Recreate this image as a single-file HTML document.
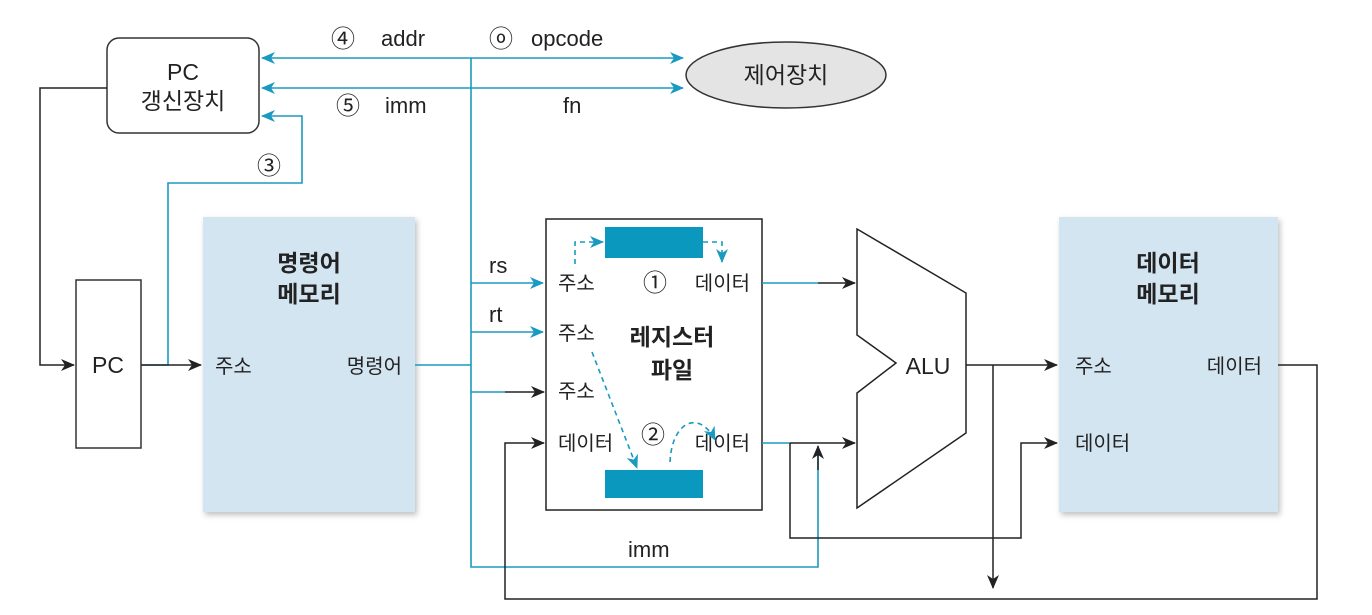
<!DOCTYPE html>
<html><head><meta charset="utf-8"><style>
html,body{margin:0;padding:0;background:#fff;}
svg{display:block;}
text{font-family:"Liberation Sans","Noto Sans CJK KR",sans-serif;fill:#222;}
</style></head><body>
<svg width="1372" height="615" viewBox="0 0 1372 615" xmlns="http://www.w3.org/2000/svg">
<defs>
<marker id="ab" markerWidth="14" markerHeight="12" refX="13" refY="6" orient="auto" markerUnits="userSpaceOnUse"><path d="M0,0 L14,6 L0,12 L4,6 Z" fill="#222"/></marker>
<marker id="ac" markerWidth="14" markerHeight="12" refX="13" refY="6" orient="auto" markerUnits="userSpaceOnUse"><path d="M0,0 L14,6 L0,12 L4,6 Z" fill="#1a9ac0"/></marker>
<marker id="acs" markerWidth="14" markerHeight="12" refX="1" refY="6" orient="auto" markerUnits="userSpaceOnUse"><path d="M14,0 L0,6 L14,12 L10,6 Z" fill="#1a9ac0"/></marker>
<filter id="sh" x="-5%" y="-5%" width="115%" height="115%"><feDropShadow dx="2" dy="3" stdDeviation="3" flood-color="#000" flood-opacity="0.25"/></filter>
</defs>

<rect x="107" y="38" width="152" height="95" rx="12" fill="#fff" stroke="#333" stroke-width="1.5"/>
<text x="183" y="80" font-size="23" text-anchor="middle">PC</text>
<text x="183" y="109" font-size="23" text-anchor="middle">갱신장치</text>

<ellipse cx="786" cy="75" rx="100" ry="33" fill="#e4e4e4" stroke="#333" stroke-width="1.5"/>
<text x="786" y="83" font-size="23" text-anchor="middle">제어장치</text>

<rect x="76" y="280" width="65" height="168" fill="#fff" stroke="#333" stroke-width="1.5"/>
<text x="108" y="373" font-size="23" text-anchor="middle">PC</text>

<rect x="203" y="217" width="212" height="295" fill="#d4e5f2" filter="url(#sh)"/>
<text x="309" y="271" font-size="23" font-weight="bold" text-anchor="middle">명령어</text>
<text x="309" y="302" font-size="23" font-weight="bold" text-anchor="middle">메모리</text>
<text x="215" y="373" font-size="20">주소</text>
<text x="402" y="373" font-size="20" text-anchor="end">명령어</text>

<rect x="1059" y="217" width="219" height="295" fill="#d4e5f2" filter="url(#sh)"/>
<text x="1168" y="271" font-size="23" font-weight="bold" text-anchor="middle">데이터</text>
<text x="1168" y="302" font-size="23" font-weight="bold" text-anchor="middle">메모리</text>
<text x="1075" y="373" font-size="20">주소</text>
<text x="1262" y="373" font-size="20" text-anchor="end">데이터</text>
<text x="1075" y="450" font-size="20">데이터</text>

<rect x="546" y="219" width="216" height="291" fill="#fff" stroke="#222" stroke-width="1.5"/>
<rect x="605" y="227" width="98" height="31" fill="#0b98bf"/>
<rect x="605" y="470" width="98" height="28" fill="#0b98bf"/>
<text x="558" y="290" font-size="20">주소</text>
<text x="655" y="291" font-size="24" text-anchor="middle">①</text>
<text x="750" y="290" font-size="20" text-anchor="end">데이터</text>
<text x="558" y="340" font-size="20">주소</text>
<text x="672" y="345" font-size="23" font-weight="bold" text-anchor="middle">레지스터</text>
<text x="672" y="378" font-size="23" font-weight="bold" text-anchor="middle">파일</text>
<text x="558" y="398" font-size="20">주소</text>
<text x="558" y="450" font-size="20">데이터</text>
<text x="653" y="443" font-size="24" text-anchor="middle">②</text>
<text x="750" y="450" font-size="20" text-anchor="end">데이터</text>

<g fill="none" stroke="#1a9ac0" stroke-width="1.6" stroke-dasharray="5,4">
<path d="M575,264 V242 H603" marker-end="url(#ac)"/>
<path d="M703,242 H722 V262" marker-end="url(#ac)"/>
<path d="M592,352 L637,468" marker-end="url(#ac)"/>
<path d="M670,462 C672,420 700,410 715,440" marker-end="url(#ac)"/>
</g>

<path d="M857,229 L966,293 L966,433 L857,508 L857,393 L896,363 L857,335 Z" fill="#fff" stroke="#222" stroke-width="1.5"/>
<text x="928" y="374" font-size="23" text-anchor="middle">ALU</text>

<g fill="none" stroke="#1a9ac0" stroke-width="1.6">
<path d="M471,58 V567 H818 V455"/>
<path d="M262,58 H683" marker-start="url(#acs)" marker-end="url(#ac)"/>
<path d="M262,88 H683" marker-start="url(#acs)" marker-end="url(#ac)"/>
<path d="M141,365 H168 V183 H302 V116 H262" marker-end="url(#ac)"/>
<path d="M471,283 H543" marker-end="url(#ac)"/>
<path d="M471,332 H543" marker-end="url(#ac)"/>
<path d="M415,365 H471"/>
<path d="M471,392 H505"/>
<path d="M762,283 H818"/>
<path d="M762,443 H790"/>
</g>

<g fill="none" stroke="#222" stroke-width="1.5">
<path d="M107,88 H40 V365 H74" marker-end="url(#ab)"/>
<path d="M141,365 H201" marker-end="url(#ab)"/>
<path d="M505,392 H544" marker-end="url(#ab)"/>
<path d="M818,283 H855" marker-end="url(#ab)"/>
<path d="M790,443 H855" marker-end="url(#ab)"/>
<path d="M818,470 V446" marker-end="url(#ab)"/>
<path d="M790,443 V538 H1021 V443 H1057" marker-end="url(#ab)"/>
<path d="M966,365 H1057" marker-end="url(#ab)"/>
<path d="M993,365 V588" marker-end="url(#ab)"/>
<path d="M1278,365 H1317 V599 H505 V443 H544" marker-end="url(#ab)"/>
</g>

<text x="331" y="47" font-size="24">④</text>
<text x="381" y="46" font-size="22">addr</text>
<text x="489" y="47" font-size="24">ⓞ</text>
<text x="531" y="46" font-size="22">opcode</text>
<text x="336" y="114" font-size="24">⑤</text>
<text x="385" y="113" font-size="22">imm</text>
<text x="563" y="113" font-size="22">fn</text>
<text x="257" y="174" font-size="24">③</text>
<text x="489" y="273" font-size="22">rs</text>
<text x="489" y="322" font-size="22">rt</text>
<text x="628" y="557" font-size="22">imm</text>
</svg>
</body></html>
